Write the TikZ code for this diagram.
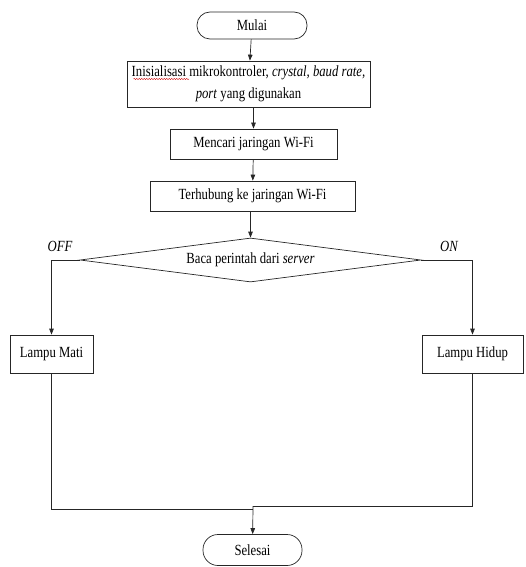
\documentclass[tikz,border=0pt]{standalone}
\usepackage{fontspec}
\setmainfont{Liberation Serif}[FakeStretch=0.82]
\usetikzlibrary{arrows.meta,shapes.geometric,decorations.pathmorphing}
\begin{document}
\begin{tikzpicture}[x=1pt,y=-1pt,
  line/.style={draw=black!85,line width=0.7pt},
  arr/.style={line,-{Triangle[length=6pt,width=4.5pt]}},
  txt/.style={font=\fontsize{15.5}{17}\selectfont},
  term/.style={line,txt,rounded corners=13pt,inner sep=0pt},
  procbox/.style={line,txt,inner sep=0pt},
  decision/.style={line,txt,diamond,aspect=7.75,inner sep=0pt},
  lbl/.style={font=\fontsize{15.5}{17}\selectfont\itshape,inner sep=0pt}]
\useasboundingbox (0,0) rectangle (526,567);
\node[term,minimum width=110pt,minimum height=27pt] (mulai) at (252,25.5) {Mulai};
\node[procbox,minimum width=243pt,minimum height=46pt,align=center,font=\fontsize{15.5}{22}\selectfont] (init) at (248.5,84)
  {Inisialisasi mikrokontroler, \textit{crystal, baud rate,}\\ \textit{port} yang digunakan};
\node[procbox,minimum width=167pt,minimum height=30pt] (cari) at (253.5,144) {Mencari jaringan Wi-Fi};
\node[procbox,minimum width=205pt,minimum height=30pt] (hub) at (252.5,196) {Terhubung ke jaringan Wi-Fi};
\node[decision,minimum width=341pt,minimum height=44pt] (baca) at (250.5,260) {Baca perintah dari \textit{server}};
\node[procbox,minimum width=83pt,minimum height=38pt] (mati) at (51.5,354) {Lampu Mati};
\node[procbox,minimum width=101pt,minimum height=38pt] (hidup) at (472.5,354) {Lampu Hidup};
\node[term,minimum width=99pt,minimum height=31pt,rounded corners=15pt] (selesai) at (252.5,550) {Selesai};
\node[lbl] (off) at (60,246) {OFF};
\node[lbl] (on) at (449,246) {ON};
\coordinate (joinL) at (253,509);
\coordinate (joinR) at (253,506);
% spelling underline
\draw[red!80!black,line width=0.4pt,decorate,decoration={snake,amplitude=0.6pt,segment length=2.5pt}]
  (133.5,79) -- (189,79);
\draw[arr] (mulai) -- (init);
\draw[arr] (init.south -| cari.north) -- (cari);
\draw[arr] (cari) -- (hub);
\draw[arr] (hub.south -| baca.north) -- (baca);
\draw[arr] (baca.west) -| (mati.north);
\draw[arr] (baca.east) -| (hidup.north);
\draw[line] (mati.south) |- (joinL);
\draw[line] (hidup.south) |- (joinR);
\draw[arr] (joinR) -- (selesai);
\end{tikzpicture}
\end{document}
